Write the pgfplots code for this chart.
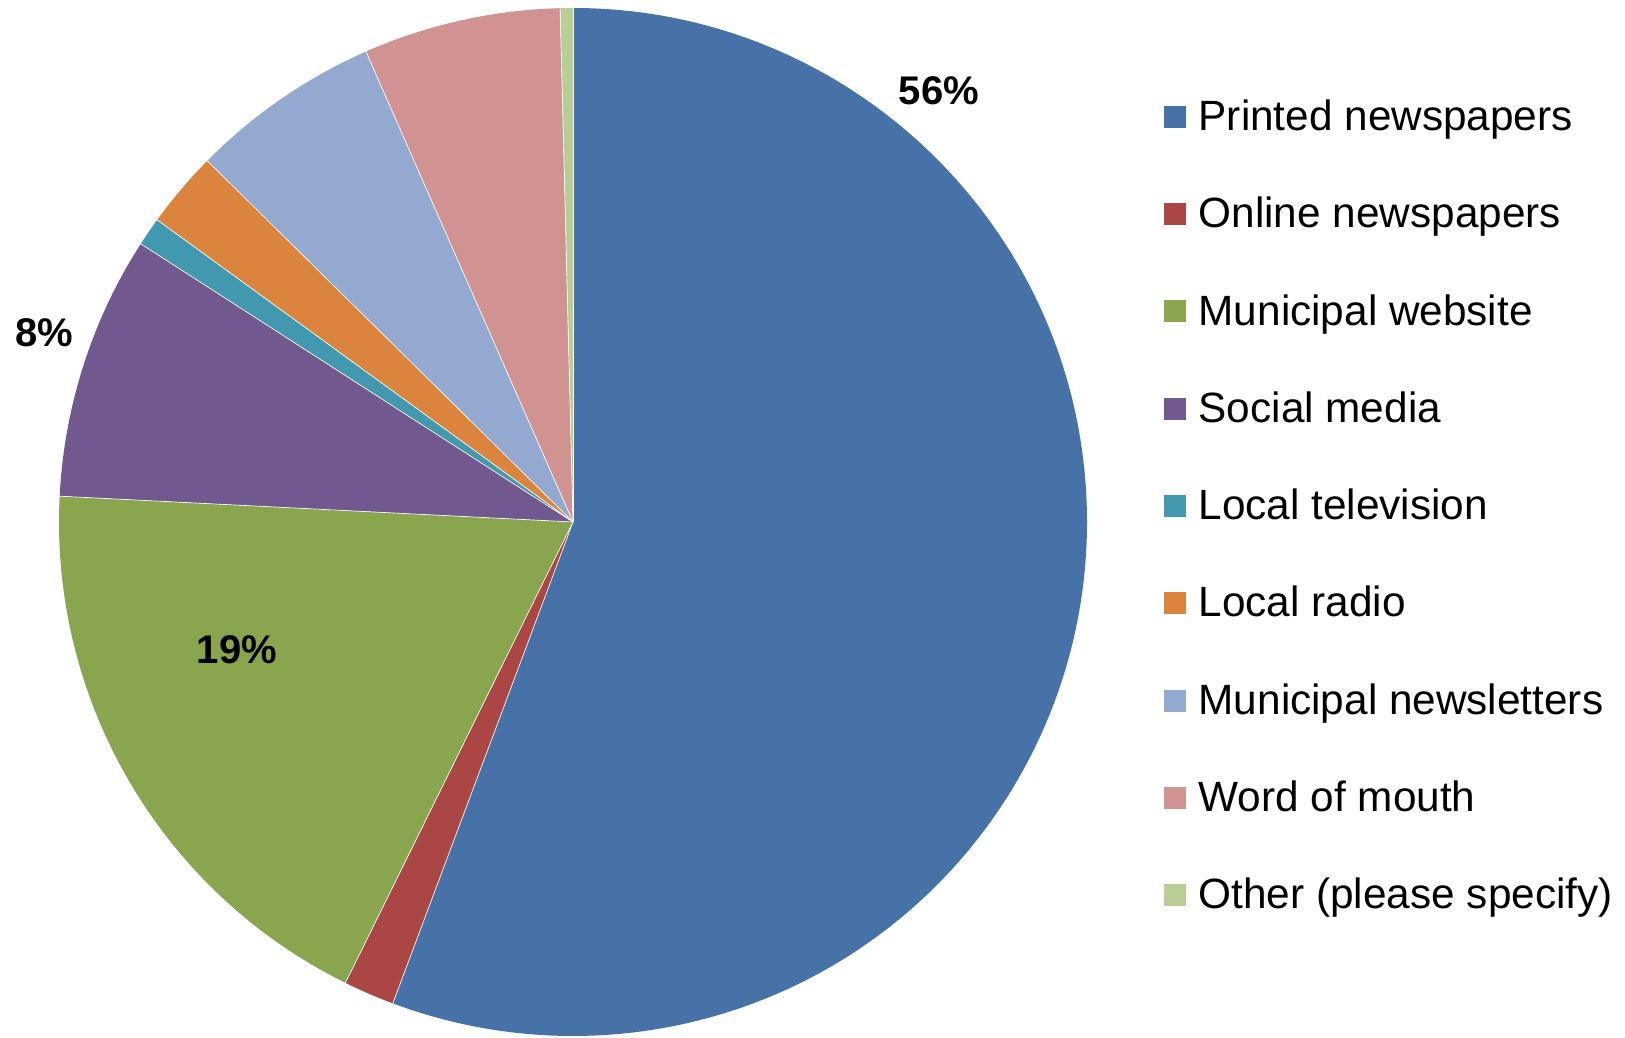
\documentclass[border=0pt]{standalone}
\usepackage{pgfplots}
\usepackage{pgfplotstable}
\usepackage{fontspec}
\setmainfont{Liberation Sans}
\pgfplotsset{compat=1.18}
\definecolor{c0}{RGB}{70,114,168}
\definecolor{c1}{RGB}{170,70,67}
\definecolor{c2}{RGB}{137,165,78}
\definecolor{c3}{RGB}{113,88,143}
\definecolor{c4}{RGB}{65,152,175}
\definecolor{c5}{RGB}{219,132,61}
\definecolor{c6}{RGB}{147,169,207}
\definecolor{c7}{RGB}{209,147,146}
\definecolor{c8}{RGB}{185,205,150}
\pgfplotstableread[col sep=comma]{
label,pct
Printed newspapers,55.7
Online newspapers,1.6
Municipal website,18.5
Social media,8.3
Local television,0.9
Local radio,2.4
Municipal newsletters,6.0
Word of mouth,6.2
Other (please specify),0.4
}\piedata
\begin{document}
\begin{tikzpicture}
\gdef\cum{0}
\foreach \i in {0,...,8}{%
  \pgfplotstablegetelem{\i}{pct}\of\piedata
  \expandafter\xdef\csname sa\i\endcsname{\cum}%
  \pgfmathsetmacro\tmp{\cum+\pgfplotsretval}%
  \xdef\cum{\tmp}%
  \expandafter\xdef\csname sb\i\endcsname{\cum}%
  \pgfplotstablegetelem{\i}{label}\of\piedata
  \expandafter\xdef\csname lb\i\endcsname{\pgfplotsretval}%
}
\begin{axis}[x=0.3pt, y=0.3pt, xmin=0, xmax=1625, ymin=0, ymax=1037,
  hide axis, clip=false, scale only axis]
\path (axis cs:0,0) rectangle (axis cs:1625,1037);
\pgfplotsinvokeforeach{0,...,8}{
  \fill[c#1, overlay] (axis cs:573,515) -- ++({90-3.6*\csname sa#1\endcsname}:154.2pt)
    arc[start angle={90-3.6*\csname sa#1\endcsname}, end angle={90-3.6*\csname sb#1\endcsname}, radius=154.2pt] -- cycle;
  \draw[white, line width=0.2pt, overlay] (axis cs:573,515) -- ++({90-3.6*\csname sa#1\endcsname}:154.2pt);
  \fill[c#1] (axis cs:1164,{931-97.25*#1}) rectangle (axis cs:1186,{909-97.25*#1});
  \node[anchor=base west, inner sep=0pt, font=\fontsize{12.7}{15}\selectfont] at (axis cs:1198,{906.3-97.25*#1}) {\csname lb#1\endcsname};
}
\node[font=\fontsize{12}{14}\selectfont\bfseries] at (axis cs:939,946) {56\%};
\node[font=\fontsize{12}{14}\selectfont\bfseries] at (axis cs:44,704) {8\%};
\node[font=\fontsize{12}{14}\selectfont\bfseries] at (axis cs:237,387) {19\%};
\end{axis}
\end{tikzpicture}
\end{document}
